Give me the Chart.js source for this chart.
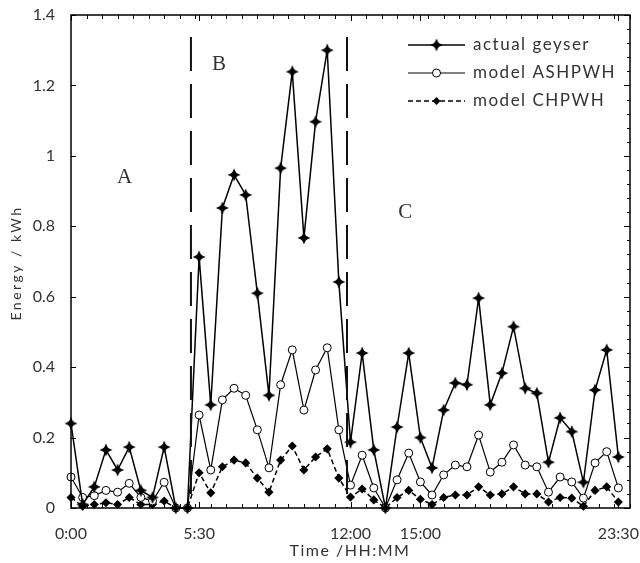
<!DOCTYPE html>
<html>
<head>
<meta charset="utf-8">
<script src="https://cdn.jsdelivr.net/npm/chart.js@4.4.1/dist/chart.umd.min.js"></script>
<style>html,body{margin:0;padding:0;background:#fff}</style>
</head>
<body>
<canvas id="energyChart" width="640" height="563"></canvas>
<script>
// half-hourly readings, time in hours
const times = [0, 0.5, 1, 1.5, 2, 2.5, 3, 3.5, 4, 4.5, 5, 5.5, 6, 6.5, 7, 7.5,
  8, 8.5, 9, 9.5, 10, 10.5, 11, 11.5, 12, 12.5, 13, 13.5, 14, 14.5, 15, 15.5,
  16, 16.5, 17, 17.5, 18, 18.5, 19, 19.5, 20, 20.5, 21, 21.5, 22, 22.5, 23, 23.5];
const actualGeyser = [0.24, 0.01, 0.06, 0.165, 0.108, 0.173, 0.05, 0.03, 0.173, 0, 0,
  0.713, 0.293, 0.852, 0.946, 0.889, 0.61, 0.32, 0.965, 1.239, 0.767, 1.097, 1.30, 0.642,
  0.187, 0.44, 0.165, 0, 0.23, 0.44, 0.2, 0.114, 0.278, 0.355, 0.35, 0.596, 0.293, 0.383,
  0.515, 0.34, 0.326, 0.13, 0.256, 0.217, 0.073, 0.335, 0.449, 0.145];
const modelASHPWH = [0.088, 0.03, 0.035, 0.05, 0.045, 0.07, 0.03, 0.02, 0.073, 0, 0,
  0.264, 0.108, 0.307, 0.34, 0.32, 0.222, 0.114, 0.35, 0.449, 0.278, 0.392, 0.455, 0.222,
  0.065, 0.15, 0.057, 0, 0.08, 0.156, 0.074, 0.037, 0.094, 0.122, 0.117, 0.207, 0.102, 0.13,
  0.179, 0.122, 0.117, 0.045, 0.088, 0.074, 0.028, 0.128, 0.16, 0.057];
const modelCHPWH = [0.03, 0.005, 0.01, 0.015, 0.01, 0.03, 0.01, 0.01, 0.02, 0, 0,
  0.1, 0.043, 0.117, 0.136, 0.128, 0.085, 0.045, 0.136, 0.176, 0.108, 0.145, 0.168, 0.085,
  0.031, 0.054, 0.023, 0, 0.03, 0.05, 0.025, 0.01, 0.03, 0.037, 0.037, 0.06, 0.037, 0.04,
  0.06, 0.04, 0.04, 0.017, 0.03, 0.028, 0.005, 0.05, 0.06, 0.017];

const xTickValues = [0, 5.5, 12, 15, 23.5];
const xTickLabels = ['0:00', '5:30', '12:00', '15:00', '23:30'];
const yTickValues = [0, 0.2, 0.4, 0.6, 0.8, 1, 1.2, 1.4];
const yTickLabels = ['0', '0.2', '0.4', '0.6', '0.8', '1', '1.2', '1.4'];

// period dividers (hours) and period names
const dividers = [5.15, 11.85];
const periodNames = ['A', 'B', 'C'];
const periodX = [2.3, 6.35, 14.35];
const periodY = [0.94, 1.26, 0.84];

function makeStar(size) {
  const c = document.createElement('canvas');
  c.width = c.height = size;
  const g = c.getContext('2d');
  const m = size / 2, r = size / 2 - 0.5, w = size * 0.14;
  g.fillStyle = '#000';
  g.beginPath();
  g.moveTo(m, m - r); g.lineTo(m + w, m - w); g.lineTo(m + r, m); g.lineTo(m + w, m + w);
  g.lineTo(m, m + r); g.lineTo(m - w, m + w); g.lineTo(m - r, m); g.lineTo(m - w, m - w);
  g.closePath();
  g.fill();
  g.beginPath();
  g.arc(m, m, size * 0.21, 0, Math.PI * 2);
  g.fill();
  return c;
}
const star = makeStar(14);

const toPoints = vals => vals.map((v, i) => ({x: times[i], y: v}));

function drawMarker(ctx, ds, cx, cy) {
  if (ds.pointStyle === star) {
    ctx.drawImage(star, cx - star.width / 2, cy - star.height / 2);
  } else if (ds.pointStyle === 'circle') {
    ctx.beginPath();
    ctx.arc(cx, cy, ds.pointRadius, 0, Math.PI * 2);
    ctx.fillStyle = '#fff';
    ctx.fill();
    ctx.setLineDash([]);
    ctx.stroke();
  } else {
    const r = ds.pointRadius + 0.5;
    ctx.beginPath();
    ctx.moveTo(cx, cy - r); ctx.lineTo(cx + r, cy); ctx.lineTo(cx, cy + r); ctx.lineTo(cx - r, cy);
    ctx.closePath();
    ctx.fillStyle = '#000';
    ctx.fill();
  }
}

const framePlugin = {
  id: 'frame',
  afterDraw(chart) {
    const {ctx, chartArea: a, scales: {x, y}} = chart;
    ctx.save();
    // dividers
    ctx.strokeStyle = '#111';
    ctx.lineWidth = 2;
    ctx.setLineDash([34, 13]);
    dividers.forEach(h => {
      const px = x.getPixelForValue(h);
      ctx.beginPath();
      ctx.moveTo(px, a.top + 22);
      ctx.lineTo(px, a.bottom);
      ctx.stroke();
    });
    ctx.setLineDash([]);

    // box
    ctx.strokeStyle = '#000';
    ctx.lineWidth = 1.5;
    ctx.strokeRect(a.left, a.top, a.right - a.left, a.bottom - a.top);

    // tick marks, pointing inwards
    ctx.lineWidth = 1;
    ctx.beginPath();
    for (let k = 0; k <= 36; k++) {
      const px = Math.round(x.getPixelForValue(k * 2 / 3)) + 0.5;
      ctx.moveTo(px, a.bottom); ctx.lineTo(px, a.bottom - 4);
      ctx.moveTo(px, a.top); ctx.lineTo(px, a.top + 4);
    }
    xTickValues.forEach(v => {
      const px = Math.round(x.getPixelForValue(v)) + 0.5;
      ctx.moveTo(px, a.bottom); ctx.lineTo(px, a.bottom - 6);
      ctx.moveTo(px, a.top); ctx.lineTo(px, a.top + 6);
    });
    for (let k = 0; k <= 35; k++) {
      const py = Math.round(y.getPixelForValue(k * 0.04)) + 0.5;
      const len = k % 5 === 0 ? 6 : 3;
      ctx.moveTo(a.right, py); ctx.lineTo(a.right - len, py);
    }
    yTickValues.forEach(v => {
      const py = Math.round(y.getPixelForValue(v)) + 0.5;
      ctx.moveTo(a.left, py); ctx.lineTo(a.left + 5, py);
    });
    ctx.stroke();

    // period letters
    ctx.fillStyle = '#333';
    ctx.font = '21px "Liberation Serif", serif';
    ctx.textAlign = 'center';
    ctx.textBaseline = 'middle';
    periodNames.forEach((t, i) => {
      ctx.fillText(t, x.getPixelForValue(periodX[i]), y.getPixelForValue(periodY[i]));
    });

    // axis titles
    ctx.fillStyle = '#333';
    ctx.letterSpacing = '1.5px';
    ctx.font = '16px Lato, sans-serif';
    ctx.fillText('Time /HH:MM', 350, 551);
    ctx.save();
    ctx.translate(16, 263);
    ctx.rotate(-Math.PI / 2);
    ctx.letterSpacing = '2.5px';
    ctx.font = '14px Lato, sans-serif';
    ctx.fillText('Energy / kWh', 0, 0);
    ctx.restore();

    // legend
    ctx.font = '17px Lato, sans-serif';
    ctx.letterSpacing = '1.5px';
    ctx.textAlign = 'left';
    const lx0 = a.right - 222, lx1 = a.right - 165;
    chart.data.datasets.forEach((ds, i) => {
      const ly = a.top + 30 + i * 28;
      ctx.strokeStyle = '#000';
      ctx.lineWidth = ds.borderWidth;
      ctx.setLineDash(ds.borderDash || []);
      ctx.beginPath();
      ctx.moveTo(lx0, ly); ctx.lineTo(lx1, ly);
      ctx.stroke();
      ctx.lineWidth = 1;
      drawMarker(ctx, ds, (lx0 + lx1) / 2, ly);
      ctx.fillStyle = '#333';
      ctx.fillText(ds.label, lx1 + 8, ly);
    });
    ctx.restore();
  }
};

new Chart(document.getElementById('energyChart'), {
  type: 'line',
  data: {
    datasets: [
      {
        label: 'actual geyser',
        data: toPoints(actualGeyser),
        borderColor: '#000',
        borderWidth: 1.5,
        pointStyle: star,
        pointRadius: 6,
        clip: false
      }, {
        label: 'model ASHPWH',
        data: toPoints(modelASHPWH),
        borderColor: '#000',
        borderWidth: 1.2,
        pointStyle: 'circle',
        pointRadius: 4,
        pointBackgroundColor: '#fff',
        pointBorderColor: '#000',
        pointBorderWidth: 1,
        clip: false
      }, {
        label: 'model CHPWH',
        data: toPoints(modelCHPWH),
        borderColor: '#000',
        borderWidth: 1.5,
        borderDash: [5, 3],
        pointStyle: 'rectRot',
        pointRadius: 3.5,
        pointBackgroundColor: '#000',
        pointBorderColor: '#000',
        clip: false
      }
    ]
  },
  options: {
    responsive: false,
    animation: false,
    events: [],
    layout: {padding: {top: 15, right: 10, left: 0, bottom: 0}},
    plugins: {legend: {display: false}, tooltip: {enabled: false}},
    scales: {
      x: {
        type: 'linear',
        min: 0,
        max: 24,
        grid: {display: false},
        border: {display: false},
        afterFit: s => { s.height = 55; s.paddingLeft = 0; s.paddingRight = 0; },
        afterBuildTicks: s => { s.ticks = xTickValues.map(v => ({value: v})); },
        ticks: {
          autoSkip: false,
          maxRotation: 0,
          padding: 8,
          color: '#333',
          font: {family: 'Lato', size: 16},
          callback: v => xTickLabels[xTickValues.indexOf(v)]
        }
      },
      y: {
        min: 0,
        max: 1.4,
        grid: {display: false},
        border: {display: false},
        afterFit: s => { s.width = 71; s.paddingTop = 0; s.paddingBottom = 0; },
        afterBuildTicks: s => { s.ticks = yTickValues.map(v => ({value: v})); },
        ticks: {
          padding: 8,
          color: '#333',
          font: {family: 'Lato', size: 16},
          callback: v => yTickLabels[yTickValues.indexOf(v)]
        }
      }
    }
  },
  plugins: [framePlugin]
});
</script>
</body>
</html>
